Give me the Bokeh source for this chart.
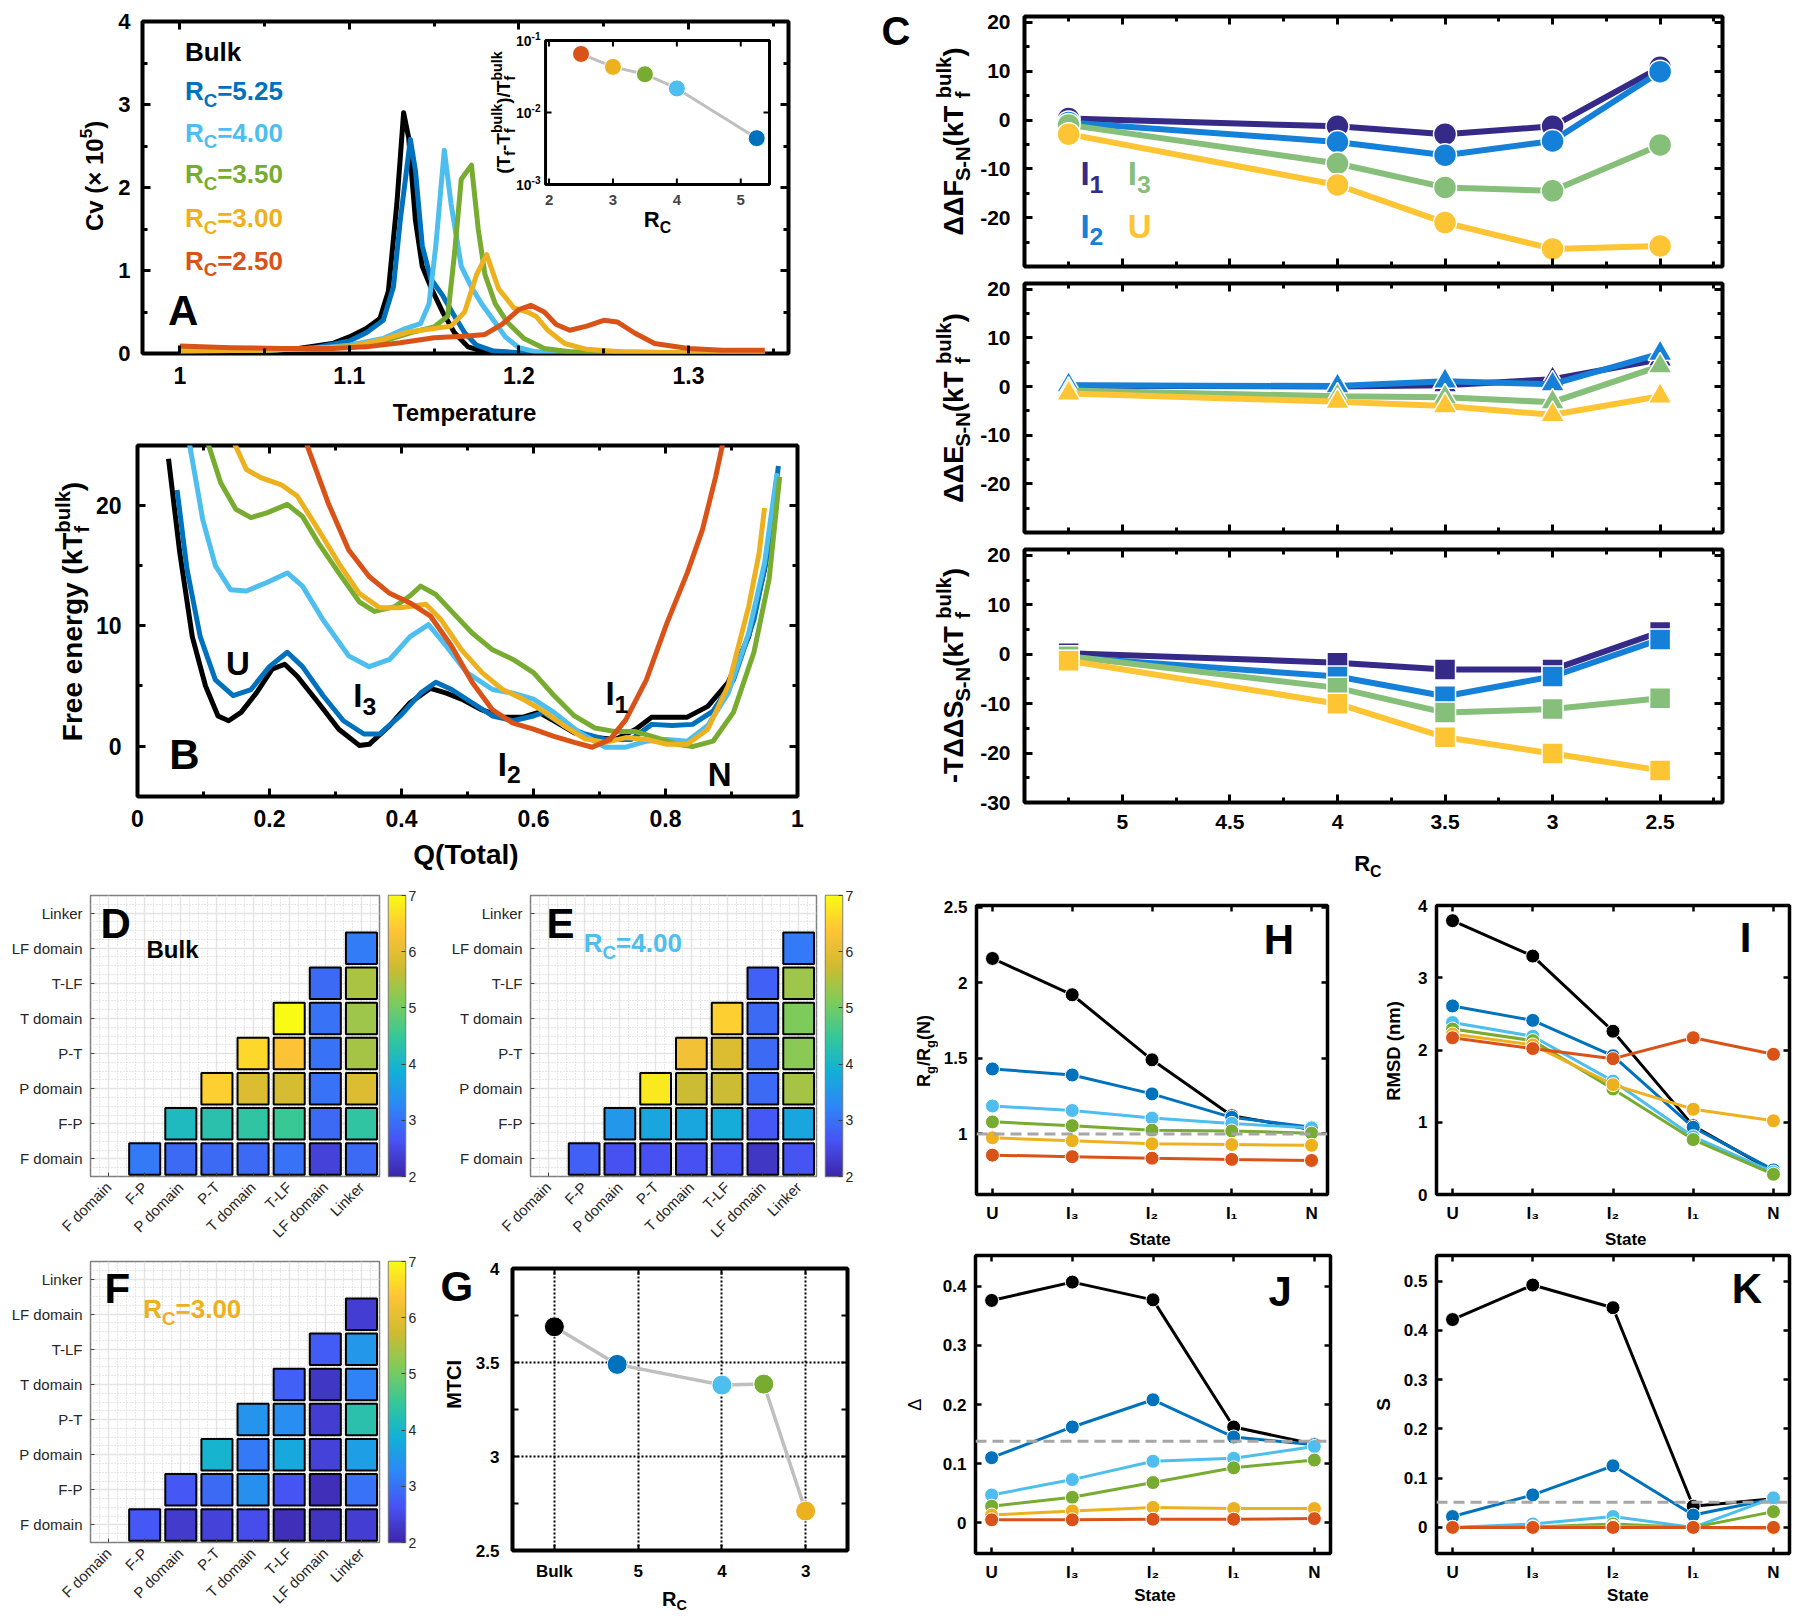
import numpy as np
from math import pi, cos, sin
from bokeh.plotting import figure
from bokeh.models import (Range1d, LinearAxis, Label, Span, FixedTicker,
                          LinearColorMapper, LogScale, ColumnDataSource,
                          PrintfTickFormatter, Spacer)
from bokeh.layouts import row, column
from bokeh.embed import file_html
from bokeh.resources import INLINE

SANS = "Liberation Sans"

# ============================ DATA ============================
RC_NAMES = ["Bulk", "5.25", "4.00", "3.50", "3.00", "2.50"]
RC_COLORS = ["#000000", "#0072BD", "#4DBEEE", "#77AC30", "#EDB120", "#D95319"]

# --- A: heat capacity Cv (x1e5) vs temperature
A_T_BULK = [1.00, 1.04, 1.07, 1.09, 1.10, 1.11, 1.118, 1.123, 1.128, 1.132, 1.135, 1.139, 1.143, 1.148, 1.155, 1.162, 1.17, 1.18, 1.20, 1.25, 1.30, 1.345]
A_CV_BULK = [0.03, 0.04, 0.06, 0.12, 0.20, 0.30, 0.42, 0.75, 1.80, 2.90, 2.60, 1.60, 1.05, 0.80, 0.50, 0.25, 0.08, 0.02, 0.01, 0.01, 0.01, 0.01]
A_T_525 = [1.00, 1.05, 1.08, 1.10, 1.11, 1.12, 1.126, 1.13, 1.136, 1.139, 1.143, 1.148, 1.155, 1.162, 1.168, 1.175, 1.185, 1.20, 1.30, 1.345]
A_CV_525 = [0.03, 0.04, 0.07, 0.15, 0.25, 0.40, 0.80, 1.60, 2.58, 2.20, 1.30, 0.90, 0.70, 0.45, 0.25, 0.10, 0.03, 0.01, 0.01, 0.01]
A_T_400 = [1.00, 1.05, 1.08, 1.10, 1.12, 1.133, 1.142, 1.147, 1.151, 1.156, 1.16, 1.166, 1.172, 1.178, 1.185, 1.192, 1.20, 1.21, 1.30, 1.345]
A_CV_400 = [0.03, 0.04, 0.06, 0.10, 0.18, 0.30, 0.36, 0.60, 1.30, 2.45, 1.80, 1.05, 0.80, 0.60, 0.40, 0.20, 0.07, 0.02, 0.01, 0.01]
A_T_350 = [1.00, 1.05, 1.10, 1.12, 1.136, 1.15, 1.158, 1.162, 1.166, 1.172, 1.176, 1.18, 1.186, 1.193, 1.203, 1.215, 1.23, 1.30, 1.345]
A_CV_350 = [0.03, 0.04, 0.08, 0.15, 0.25, 0.32, 0.45, 1.20, 2.10, 2.27, 1.50, 0.95, 0.60, 0.38, 0.18, 0.06, 0.02, 0.01, 0.01]
A_T_300 = [1.00, 1.05, 1.10, 1.12, 1.135, 1.15, 1.16, 1.168, 1.175, 1.181, 1.188, 1.197, 1.205, 1.21, 1.217, 1.227, 1.24, 1.26, 1.30, 1.345]
A_CV_300 = [0.03, 0.04, 0.08, 0.17, 0.26, 0.30, 0.33, 0.50, 0.95, 1.19, 0.78, 0.55, 0.50, 0.45, 0.28, 0.12, 0.05, 0.02, 0.01, 0.01]
A_T_250 = [1.00, 1.03, 1.06, 1.09, 1.11, 1.13, 1.15, 1.17, 1.18, 1.19, 1.20, 1.207, 1.215, 1.222, 1.23, 1.24, 1.25, 1.258, 1.268, 1.28, 1.30, 1.32, 1.345]
A_CV_250 = [0.09, 0.07, 0.06, 0.06, 0.08, 0.13, 0.19, 0.21, 0.23, 0.35, 0.53, 0.58, 0.50, 0.35, 0.28, 0.33, 0.40, 0.38, 0.25, 0.12, 0.06, 0.04, 0.04]

# --- A inset: (Tf - Tf_bulk)/Tf_bulk vs Rc
INSET_RC = [2.5, 3.0, 3.5, 4.0, 5.25]
INSET_SHIFT = [0.065, 0.043, 0.034, 0.0216, 0.0044]
INSET_COLORS = ["#D95319", "#EDB120", "#77AC30", "#4DBEEE", "#0072BD"]

# --- B: free energy vs Q(Total)
B_Q_BULK = [0.047, 0.064, 0.083, 0.103, 0.122, 0.138, 0.157, 0.18, 0.204, 0.223, 0.242, 0.274, 0.305, 0.336, 0.351, 0.382, 0.413, 0.444, 0.468, 0.491, 0.522, 0.553, 0.584, 0.608, 0.631, 0.662, 0.693, 0.724, 0.755, 0.779, 0.802, 0.833, 0.864, 0.895, 0.926, 0.95, 0.969]
B_F_BULK = [23.9, 16.1, 9.1, 5.0, 2.5, 2.1, 2.8, 4.4, 6.4, 6.8, 5.8, 3.6, 1.4, 0.05, 0.14, 1.7, 3.6, 4.8, 4.4, 3.9, 3.0, 2.4, 2.4, 2.8, 2.1, 1.1, 0.7, 0.55, 1.4, 2.4, 2.4, 2.4, 3.3, 5.3, 9.1, 14.7, 22.2]
B_Q_525 = [0.06, 0.075, 0.095, 0.118, 0.145, 0.172, 0.2, 0.227, 0.25, 0.281, 0.312, 0.343, 0.367, 0.398, 0.429, 0.452, 0.476, 0.507, 0.538, 0.569, 0.6, 0.615, 0.646, 0.678, 0.709, 0.748, 0.779, 0.81, 0.841, 0.872, 0.903, 0.934, 0.957, 0.971]
B_F_525 = [21.3, 14.7, 9.1, 5.5, 4.2, 4.7, 6.6, 7.8, 6.6, 4.2, 2.1, 1.0, 1.0, 2.5, 4.4, 5.3, 4.7, 3.6, 2.5, 2.1, 2.5, 2.8, 1.7, 1.0, 0.55, 0.55, 1.8, 1.7, 1.8, 2.9, 5.5, 10.5, 16.6, 23.3]
B_Q_400 = [0.076, 0.099, 0.118, 0.141, 0.165, 0.196, 0.227, 0.25, 0.281, 0.32, 0.351, 0.382, 0.413, 0.441, 0.468, 0.499, 0.538, 0.569, 0.6, 0.631, 0.67, 0.709, 0.74, 0.771, 0.802, 0.833, 0.864, 0.895, 0.926, 0.95, 0.969]
B_F_400 = [26.0, 18.8, 15.0, 13.0, 12.9, 13.6, 14.4, 13.3, 10.5, 7.5, 6.6, 7.2, 9.1, 10.1, 8.3, 6.1, 4.7, 4.4, 3.9, 2.8, 1.1, -0.1, -0.1, 0.4, 0.55, 0.4, 1.7, 4.4, 9.4, 15.2, 22.7]
B_Q_350 = [0.102, 0.126, 0.149, 0.172, 0.196, 0.227, 0.25, 0.274, 0.305, 0.336, 0.359, 0.39, 0.413, 0.429, 0.452, 0.476, 0.507, 0.538, 0.569, 0.6, 0.631, 0.662, 0.693, 0.724, 0.755, 0.786, 0.817, 0.841, 0.872, 0.903, 0.934, 0.957, 0.973]
B_F_350 = [26.0, 21.9, 19.7, 19.0, 19.4, 20.1, 19.1, 16.9, 14.4, 12.0, 11.2, 11.6, 12.5, 13.3, 12.6, 11.2, 9.4, 8.0, 7.2, 6.1, 4.2, 2.5, 1.5, 1.2, 1.2, 0.7, 0.15, -0.05, 0.4, 2.8, 7.8, 13.9, 22.4]
B_Q_300 = [0.14, 0.165, 0.188, 0.219, 0.242, 0.274, 0.305, 0.336, 0.367, 0.398, 0.437, 0.46, 0.491, 0.522, 0.553, 0.584, 0.615, 0.646, 0.678, 0.709, 0.74, 0.771, 0.802, 0.833, 0.864, 0.895, 0.926, 0.942, 0.95]
B_F_300 = [26.0, 23.0, 22.3, 21.7, 20.8, 18.0, 15.2, 12.7, 11.5, 11.5, 11.8, 10.5, 8.0, 6.1, 4.7, 3.9, 2.9, 1.7, 0.6, 0.3, 0.7, 0.55, 0.15, 0.15, 1.4, 5.0, 11.6, 16.1, 19.8]
B_Q_250 = [0.247, 0.289, 0.32, 0.351, 0.382, 0.413, 0.444, 0.476, 0.507, 0.538, 0.569, 0.6, 0.631, 0.662, 0.689, 0.716, 0.74, 0.771, 0.802, 0.833, 0.856, 0.876, 0.892]
B_F_250 = [26.5, 20.2, 16.3, 14.1, 12.7, 11.9, 10.8, 8.3, 5.3, 3.0, 1.9, 1.4, 0.8, 0.3, -0.1, 0.55, 2.2, 5.5, 10.2, 14.4, 18.0, 22.4, 26.5]

# --- C: stability differences vs Rc
C_RC = [5.25, 4.0, 3.5, 3.0, 2.5]
C_COLORS = ["#352A87", "#1480D8", "#86BF79", "#FDC533"]   # I1, I2, I3, U
DDF_I1 = [0.3, -1.3, -2.9, -1.3, 10.8]
DDF_I2 = [-0.5, -4.5, -7.2, -4.3, 9.9]
DDF_I3 = [-1.0, -8.9, -13.8, -14.5, -5.1]
DDF_U = [-2.9, -13.3, -21.0, -26.4, -25.8]
DDE_I1 = [0.2, 0.0, 0.3, 1.5, 5.6]
DDE_I2 = [0.3, 0.1, 1.1, 0.5, 6.8]
DDE_I3 = [-0.8, -2.0, -2.2, -3.2, 4.2]
DDE_U = [-1.4, -3.1, -4.0, -5.8, -2.0]
TDS_I1 = [0.2, -1.7, -3.1, -3.1, 4.5]
TDS_I2 = [-0.6, -4.5, -8.5, -4.5, 3.0]
TDS_I3 = [-0.4, -6.8, -11.8, -11.1, -8.9]
TDS_U = [-1.3, -10.0, -16.8, -20.1, -23.5]

# --- D/E/F: domain coupling maps (rows = y category, cols = x category)
DOMAINS = ["F domain", "F-P", "P domain", "P-T", "T domain", "T-LF", "LF domain", "Linker"]
N_ = None
HEAT_BULK = [
    [N_, 3.1, 2.9, 2.9, 2.9, 3.0, 2.4, 2.9],
    [N_, N_, 4.1, 4.3, 4.4, 4.5, 2.9, 4.4],
    [N_, N_, N_, 6.5, 5.9, 5.8, 3.0, 5.9],
    [N_, N_, N_, N_, 6.6, 6.35, 3.0, 5.4],
    [N_, N_, N_, N_, N_, 7.0, 3.0, 5.35],
    [N_, N_, N_, N_, N_, N_, 2.9, 5.45],
    [N_, N_, N_, N_, N_, N_, N_, 3.15],
    [N_, N_, N_, N_, N_, N_, N_, N_],
]
HEAT_RC400 = [
    [N_, 2.8, 2.6, 2.6, 2.6, 2.65, 2.25, 2.65],
    [N_, N_, 3.5, 3.7, 3.7, 3.8, 2.7, 3.7],
    [N_, N_, N_, 6.8, 5.7, 5.7, 2.9, 5.4],
    [N_, N_, N_, N_, 6.2, 5.9, 2.9, 5.2],
    [N_, N_, N_, N_, N_, 6.5, 2.9, 5.1],
    [N_, N_, N_, N_, N_, N_, 2.8, 5.35],
    [N_, N_, N_, N_, N_, N_, N_, 3.1],
    [N_, N_, N_, N_, N_, N_, N_, N_],
]
HEAT_RC300 = [
    [N_, 2.7, 2.3, 2.4, 2.55, 2.15, 2.2, 2.35],
    [N_, N_, 2.7, 2.9, 3.4, 2.65, 2.15, 3.0],
    [N_, N_, N_, 3.95, 3.1, 3.75, 2.4, 3.6],
    [N_, N_, N_, N_, 3.45, 3.35, 2.35, 4.3],
    [N_, N_, N_, N_, N_, 2.8, 2.25, 3.2],
    [N_, N_, N_, N_, N_, N_, 2.75, 3.5],
    [N_, N_, N_, N_, N_, N_, N_, 2.35],
    [N_, N_, N_, N_, N_, N_, N_, N_],
]

# --- G: MTCI vs Rc (Bulk placed at 6)
G_X = [6.0, 5.25, 4.0, 3.5, 3.0]
G_MTCI = [3.69, 3.49, 3.38, 3.385, 2.71]
G_COLORS = ["#000000", "#0072BD", "#4DBEEE", "#77AC30", "#EDB120"]
G_TICK_LABELS = {6: "Bulk"}

# --- H-K: per-state properties (U, I3, I2, I1, N)
STATE_X = [1, 2, 3, 4, 5]
STATE_LABELS = {1: "U", 2: "I\u2083", 3: "I\u2082", 4: "I\u2081", 5: "N"}
RG_BULK = [2.16, 1.92, 1.49, 1.12, 1.03]
RG_525 = [1.43, 1.39, 1.265, 1.11, 1.045]
RG_400 = [1.185, 1.155, 1.105, 1.07, 1.04]
RG_350 = [1.08, 1.055, 1.025, 1.02, 1.005]
RG_300 = [0.975, 0.955, 0.935, 0.93, 0.925]
RG_250 = [0.86, 0.85, 0.84, 0.832, 0.825]
RG_REF = 1.0
RMSD_BULK = [3.79, 3.30, 2.26, 0.95, 0.32]
RMSD_525 = [2.61, 2.41, 1.92, 0.93, 0.34]
RMSD_400 = [2.38, 2.19, 1.57, 0.80, 0.31]
RMSD_350 = [2.29, 2.13, 1.46, 0.76, 0.28]
RMSD_300 = [2.22, 2.07, 1.52, 1.18, 1.02]
RMSD_250 = [2.17, 2.02, 1.88, 2.17, 1.94]
DELTA_BULK = [0.376, 0.407, 0.377, 0.162, 0.133]
DELTA_525 = [0.110, 0.162, 0.208, 0.145, 0.132]
DELTA_400 = [0.047, 0.073, 0.104, 0.109, 0.129]
DELTA_350 = [0.028, 0.043, 0.068, 0.093, 0.106]
DELTA_300 = [0.013, 0.020, 0.026, 0.024, 0.024]
DELTA_250 = [0.005, 0.005, 0.006, 0.006, 0.007]
DELTA_REF = 0.138
S_BULK = [0.422, 0.492, 0.446, 0.043, 0.058]
S_525 = [0.022, 0.066, 0.125, 0.025, 0.058]
S_400 = [0.0, 0.007, 0.022, 0.0, 0.060]
S_350 = [0.0, 0.001, 0.007, 0.0, 0.032]
S_300 = [0.0, 0.0, 0.002, 0.0, -0.002]
S_250 = [0.0, 0.0, 0.0, 0.0, 0.0]
S_REF = 0.051

# ============================ HELPERS ============================
BW = {c: 556 for c in "0123456789"}
BW.update({' ': 278, '!': 333, '(': 333, ')': 333, '-': 333, '.': 278, '/': 278, '=': 584,
           '\u00d7': 584, '\u0394': 700,
           'A': 722, 'B': 722, 'C': 722, 'D': 722, 'E': 667, 'F': 611, 'G': 778, 'H': 722,
           'I': 278, 'J': 556, 'K': 722, 'L': 611, 'M': 833, 'N': 722, 'O': 778, 'P': 667,
           'Q': 778, 'R': 722, 'S': 667, 'T': 611, 'U': 722, 'V': 667, 'W': 944, 'X': 667,
           'Y': 667, 'Z': 611, 'a': 556, 'b': 611, 'c': 556, 'd': 611, 'e': 556, 'f': 333,
           'g': 611, 'h': 611, 'i': 278, 'j': 278, 'k': 556, 'l': 278, 'm': 889, 'n': 611,
           'o': 611, 'p': 611, 'q': 611, 'r': 389, 's': 556, 't': 333, 'u': 611, 'v': 556,
           'w': 778, 'x': 556, 'y': 556, 'z': 500})


def tw(s, size):
    return sum(BW.get(ch, 556) for ch in s) / 1000.0 * size


def rich(p, x, y, pieces, size, font=SANS, color="black", angle=0.0, align="left",
         xo=0.0, yo=0.0, style="bold", ratio=0.72, xr="default", yr="default"):
    """Text with sub/superscripts; (x, y) + offsets give the left end of the baseline."""
    ss = size * ratio
    items, adv = [], 0.0
    for pc in pieces:
        if pc[0] == "n":
            items.append((adv, 0.0, pc[1], size)); adv += tw(pc[1], size)
        elif pc[0] == "b":
            items.append((adv, -0.24 * size, pc[1], ss)); adv += tw(pc[1], ss)
        elif pc[0] == "p":
            items.append((adv, 0.42 * size, pc[1], ss)); adv += tw(pc[1], ss)
        else:
            items.append((adv, -0.24 * size, pc[1], ss))
            items.append((adv, 0.46 * size, pc[2], ss))
            adv += max(tw(pc[1], ss), tw(pc[2], ss))
    start = {"left": 0.0, "center": -adv / 2.0, "right": -adv}[align]
    ca, sa = cos(angle), sin(angle)
    for a, sh, t, sz in items:
        d = start + a
        shm = sh + 0.35 * sz          # anchor each piece at its middle
        ox = d * ca - shm * sa
        oy = d * sa + shm * ca
        p.add_layout(Label(x=x, y=y, text=t, x_offset=xo + ox, y_offset=yo + oy, angle=angle,
                           text_font=font, text_font_style=style, text_font_size=f"{sz:.1f}px",
                           text_color=color, text_align="left", text_baseline="middle",
                           x_range_name=xr, y_range_name=yr))


class TextPanel:
    """A figure whose frame covers all of it; used for texts that sit outside plot frames.
    Positions are given in page-image pixels (x0, y0 = top-left corner of this panel)."""

    def __init__(self, x0, y0, w, h):
        self.x0, self.y0, self.w, self.h = x0, y0, w, h
        p = figure(width=w, height=h, x_range=Range1d(0, w), y_range=Range1d(0, h),
                   output_backend="svg", toolbar_location=None,
                   min_border_left=0, min_border_right=0, min_border_top=0,
                   min_border_bottom=0, x_axis_location=None, y_axis_location=None)
        for g in p.grid:
            g.visible = False
        p.outline_line_color = None
        p.background_fill_color = "white"
        p.border_fill_color = "white"
        self.fig = p

    def put(self, X, Y, pieces, size, **kw):
        rich(self.fig, X - self.x0, self.y0 + self.h - Y, pieces, size, **kw)


def base_fig(w, h, xr, yr, bl, br, bt, bb, lw=4.0, axes=True):
    p = figure(width=w, height=h, x_range=xr, y_range=yr, output_backend="svg",
               toolbar_location=None, min_border_left=bl, min_border_right=br,
               min_border_top=bt, min_border_bottom=bb,
               x_axis_location="below" if axes else None,
               y_axis_location="left" if axes else None)
    for g in p.grid:
        g.visible = False
    p.outline_line_color = "black"
    p.outline_line_width = lw
    p.outline_line_alpha = 1.0
    p.background_fill_color = "white"
    p.border_fill_color = "white"
    return p


def style_axis(ax, ticks, minor=(), size=20, standoff=10, tick_len=8, minor_len=5, twid=3,
               font=SANS, style="bold", overrides=None, labels=True, fmt=True, color="black"):
    ax.ticker = FixedTicker(ticks=list(ticks), minor_ticks=list(minor))
    if fmt:
        ax.formatter = PrintfTickFormatter(format="%g")
    ax.axis_line_color = None
    ax.major_tick_in = tick_len
    ax.major_tick_out = 0
    ax.minor_tick_in = minor_len
    ax.minor_tick_out = 0
    ax.major_tick_line_width = twid
    ax.minor_tick_line_width = twid
    ax.major_tick_line_color = color
    ax.minor_tick_line_color = color
    ax.major_label_text_font = font
    ax.major_label_text_font_style = style
    if labels:
        ax.major_label_standoff = standoff
        ax.major_label_text_font_size = f"{size}px"
        ax.major_label_text_color = "black"
    else:
        ax.major_label_standoff = 0
        ax.major_label_text_font_size = "1px"
        ax.major_label_text_color = None
    if overrides:
        ax.major_label_overrides = overrides


def mirror(p, xt, xm, yt, ym, tick_len=8, minor_len=5, twid=3):
    top = LinearAxis()
    style_axis(top, xt, xm, labels=False, tick_len=tick_len, minor_len=minor_len, twid=twid)
    p.add_layout(top, "above")
    right = LinearAxis()
    style_axis(right, yt, ym, labels=False, tick_len=tick_len, minor_len=minor_len, twid=twid)
    p.add_layout(right, "right")


# ============================ PANEL A ============================
# figure: page x 112-880, y 8-393 ; frame x 142-788, y 21-353
pA = base_fig(768, 385, Range1d(0.978, 1.359), Range1d(0, 4), 30, 92, 13, 40)
AX_T, AX_TM = [1, 1.1, 1.2, 1.3], [1.05, 1.15, 1.25, 1.35]
AY_T, AY_TM = [0, 1, 2, 3, 4], [0.5, 1.5, 2.5, 3.5]
style_axis(pA.xaxis[0], AX_T, AX_TM, size=23, standoff=13)
style_axis(pA.yaxis[0], AY_T, AY_TM, size=22, standoff=12)
mirror(pA, AX_T, AX_TM, AY_T, AY_TM)
A_SERIES = [(A_T_BULK, A_CV_BULK), (A_T_525, A_CV_525), (A_T_400, A_CV_400),
            (A_T_350, A_CV_350), (A_T_300, A_CV_300), (A_T_250, A_CV_250)]
for (t, cv), col in zip(A_SERIES, RC_COLORS):
    pA.line(t, cv, line_color=col, line_width=5, line_join="round")

leg_base = [3.52, 3.05, 2.55, 2.05, 1.52, 1.01]
for name, col, yb in zip(RC_NAMES, RC_COLORS, leg_base):
    if name == "Bulk":
        rich(pA, 1.003, yb, [("n", "Bulk")], 26, color=col)
    else:
        rich(pA, 1.003, yb, [("n", "R"), ("b", "C"), ("n", "=" + name)], 26, color=col)
rich(pA, 0.993, 0.34, [("n", "A")], 42)

# inset (drawn through extra ranges mapped onto a sub-box of the frame)
IX0, IX1, IY0, IY1 = 1.945, 5.45, 1e-3, 1e-1
pA.extra_x_ranges = {"ix": Range1d(-4.362, 5.747)}
pA.extra_y_ranges = {"iy": Range1d(10 ** -5.347, 10 ** -0.736)}
pA.extra_y_scales = {"iy": LogScale()}
pA.quad(left=[IX0], right=[IX1], bottom=[IY0], top=[IY1], fill_color="white",
        line_color="black", line_width=3, x_range_name="ix", y_range_name="iy")
INSET_XT = [2, 3, 4, 5]
INSET_YT = [1e-3, 1e-2, 1e-1]
kx = 10 ** (6 / 72.0)
pA.segment(x0=INSET_XT, y0=[IY0] * 4, x1=INSET_XT, y1=[IY0 * kx] * 4, line_color="black",
           line_width=2, x_range_name="ix", y_range_name="iy")
pA.segment(x0=INSET_XT, y0=[IY1] * 4, x1=INSET_XT, y1=[IY1 / kx] * 4, line_color="black",
           line_width=2, x_range_name="ix", y_range_name="iy")
pA.segment(x0=[IX0] * 3, y0=INSET_YT, x1=[IX0 + 0.094] * 3, y1=INSET_YT, line_color="black",
           line_width=2, x_range_name="ix", y_range_name="iy")
pA.segment(x0=[IX1] * 3, y0=INSET_YT, x1=[IX1 - 0.094] * 3, y1=INSET_YT, line_color="black",
           line_width=2, x_range_name="ix", y_range_name="iy")
for t in INSET_XT:
    pA.add_layout(Label(x=t, y=IY0, text=str(t), y_offset=-15, text_align="center",
                        text_baseline="middle", text_font=SANS, text_font_style="bold",
                        text_font_size="15px", x_range_name="ix", y_range_name="iy"))
for t, e in zip(INSET_YT, ["-3", "-2", "-1"]):
    rich(pA, IX0, t, [("n", "10"), ("p", e)], 14, align="right", xo=-5, yo=-5,
         xr="ix", yr="iy")
pA.line(INSET_RC, INSET_SHIFT, line_color="#BFBFBF", line_width=3,
        x_range_name="ix", y_range_name="iy")
pA.scatter(INSET_RC, INSET_SHIFT, size=17, fill_color=INSET_COLORS, line_color="white",
           line_width=1, x_range_name="ix", y_range_name="iy")
rich(pA, (IX0 + IX1) / 2, IY0, [("n", "R"), ("b", "C")], 22, align="center", yo=-43,
     xr="ix", yr="iy")
rich(pA, IX0, 1e-2, [("n", "(T"), ("b", "f"), ("n", "-T"), ("bp", "f", "bulk"), ("n", ")/T"),
                     ("bp", "f", "bulk")], 19, angle=pi / 2, align="center", xo=-35,
     ratio=0.75, xr="ix", yr="iy")

YL_A = TextPanel(8, 8, 104, 385)
YL_A.put(102, 187, [("n", "Cv (\u00d7 10"), ("p", "5"), ("n", ")")], 24, angle=pi / 2,
         align="center")
XL_A = TextPanel(8, 393, 872, 35)
XL_A.put(465, 420, [("n", "Temperature")], 24, align="center")

# ============================ PANEL B ============================
# figure: page x 92-880, y 428-835 ; frame x 136-797, y 445-796
pB = base_fig(788, 407, Range1d(0, 1), Range1d(-4.2, 25), 44, 83, 17, 39)
BX_T, BX_TM = [0, 0.2, 0.4, 0.6, 0.8, 1.0], [0.1, 0.3, 0.5, 0.7, 0.9]
BY_T, BY_TM = [0, 10, 20], [5, 15]
style_axis(pB.xaxis[0], BX_T, BX_TM, size=23, standoff=13)
style_axis(pB.yaxis[0], BY_T, BY_TM, size=23, standoff=16)
mirror(pB, BX_T, BX_TM, BY_T, BY_TM)
B_SERIES = [(B_Q_BULK, B_F_BULK), (B_Q_525, B_F_525), (B_Q_400, B_F_400),
            (B_Q_350, B_F_350), (B_Q_300, B_F_300), (B_Q_250, B_F_250)]
for (q, f), col in zip(B_SERIES, RC_COLORS):
    pB.line(q, f, line_color=col, line_width=5, line_join="round")
rich(pB, 0.134, 5.9, [("n", "U")], 33)
rich(pB, 0.327, 3.2, [("n", "I"), ("b", "3")], 33, ratio=0.75)
rich(pB, 0.546, -2.46, [("n", "I"), ("b", "2")], 33, ratio=0.75)
rich(pB, 0.709, 3.37, [("n", "I"), ("b", "1")], 33, ratio=0.75)
rich(pB, 0.864, -3.3, [("n", "N")], 33)
rich(pB, 0.048, -1.9, [("n", "B")], 42)

YL_B = TextPanel(8, 428, 84, 407)
YL_B.put(82, 620.5, [("n", "Free energy (kT"), ("bp", "f", "bulk"), ("n", ")")], 28,
         angle=pi / 2, align="center")
XL_B = TextPanel(8, 835, 872, 50)
XL_B.put(466.5, 864, [("n", "Q(Total)")], 28, align="center")

# ============================ PANEL C ============================
# figures: page x 975-1784 ; frames x 1024-1722
CX_T = [5, 4.5, 4, 3.5, 3, 2.5]
CX_TM = [5.25, 4.75, 4.25, 3.75, 3.25, 2.75, 2.25]
CY_TM = [15, 5, -5, -15, -25]


def c_fig(h, bt, bb, yt, xlabels, series, marker, msize):
    p = base_fig(809, h, Range1d(5.455, 2.21), Range1d(-30.0, 21.2), 49, 62, bt, bb)
    style_axis(p.xaxis[0], CX_T, CX_TM, size=21, standoff=12, labels=xlabels)
    style_axis(p.yaxis[0], yt, CY_TM, size=21, standoff=14)
    mirror(p, CX_T, CX_TM, yt, CY_TM)
    for ys, col in zip(series, C_COLORS):
        p.line(C_RC, ys, line_color=col, line_width=6)
        p.scatter(C_RC, ys, marker=marker, size=msize, fill_color=col, line_color="white",
                  line_width=1.5)
    return p


YT12 = [20, 10, 0, -10, -20]
pC1 = c_fig(267, 8, 9, YT12, False, [DDF_I1, DDF_I2, DDF_I3, DDF_U], "circle", 23)
pC2 = c_fig(266, 8, 9, YT12, False, [DDE_I1, DDE_I2, DDE_I3, DDE_U], "triangle", 24)
pC3 = c_fig(297, 8, 36, [20, 10, 0, -10, -20, -30], True, [TDS_I1, TDS_I2, TDS_I3, TDS_U],
            "square", 21)
rich(pC1, 5.195, -13.4, [("n", "I"), ("b", "1")], 33, color=C_COLORS[0], ratio=0.75)
rich(pC1, 4.975, -13.4, [("n", "I"), ("b", "3")], 33, color=C_COLORS[2], ratio=0.75)
rich(pC1, 5.195, -24.1, [("n", "I"), ("b", "2")], 33, color=C_COLORS[1], ratio=0.75)
rich(pC1, 4.975, -24.1, [("n", "U")], 33, color=C_COLORS[3])

YL_C = TextPanel(880, 8, 95, 877)
YL_C.put(881, 44, [("n", "C")], 40)
KT = [("n", " (kT"), ("bp", "f", "bulk"), ("n", ")")]
YL_C.put(963, 141, [("n", "\u0394\u0394F"), ("b", "S-N")] + KT, 27, angle=pi / 2,
         align="center", ratio=0.75)
YL_C.put(963, 407.5, [("n", "\u0394\u0394E"), ("b", "S-N")] + KT, 27, angle=pi / 2,
         align="center", ratio=0.75)
YL_C.put(963, 675, [("n", "-T\u0394\u0394S"), ("b", "S-N")] + KT, 27, angle=pi / 2,
         align="center", ratio=0.75)
XL_C = TextPanel(975, 838, 809, 47)
XL_C.put(1373, 871, [("n", "R"), ("b", "C")], 22, align="center")

# ============================ PANELS D/E/F ============================
PARULA_ANCHORS = [
    (0.0, (0.2422, 0.1504, 0.6603)), (0.125, (0.2810, 0.3228, 0.9578)),
    (0.25, (0.1786, 0.5289, 0.9682)), (0.375, (0.0689, 0.6948, 0.8394)),
    (0.5, (0.2161, 0.7843, 0.5923)), (0.625, (0.5044, 0.7993, 0.3480)),
    (0.75, (0.8185, 0.7327, 0.1879)), (0.875, (0.9990, 0.7653, 0.2164)),
    (1.0, (0.9769, 0.9839, 0.0805))]
_ts = [a[0] for a in PARULA_ANCHORS]
_cs = np.array([a[1] for a in PARULA_ANCHORS])
PARULA = []
for t in np.linspace(0, 1, 256):
    rgb = [int(round(255 * np.interp(t, _ts, _cs[:, i]))) for i in range(3)]
    PARULA.append("#%02x%02x%02x" % tuple(rgb))
MAPPER = LinearColorMapper(palette=PARULA, low=2, high=7)
CB_GRAD = np.linspace(2, 7, 256).reshape(256, 1)
HEAT_TICKS = list(range(1, 9))
HEAT_MINOR = [i + f for i in range(0, 9) for f in (0.25, 0.5, 0.75)]


def heat_fig(vals, w, h, bl, br, bt, bb):
    p = base_fig(w, h, Range1d(0.5, 8.5), Range1d(0.5, 8.5), bl, br, bt, bb, lw=1.5)
    p.outline_line_color = "#808080"
    xs, ys, vs = [], [], []
    for r, rv in enumerate(vals):
        for c, v in enumerate(rv):
            if v is not None:
                xs.append(c + 1); ys.append(r + 1); vs.append(v)
    src = ColumnDataSource(dict(x=xs, y=ys, v=vs))
    for g in p.grid:
        g.visible = True
        g.grid_line_color = "#e4e4e4"
        g.grid_line_width = 1.5
        g.minor_grid_line_color = "#cfcfcf"
        g.minor_grid_line_dash = "1 2"
        g.minor_grid_line_width = 1
    p.rect("x", "y", width=0.86, height=0.9, source=src,
           fill_color={"field": "v", "transform": MAPPER}, line_color="black", line_width=2)
    names = {i + 1: n for i, n in enumerate(DOMAINS)}
    for ax in (p.xaxis[0], p.yaxis[0]):
        style_axis(ax, HEAT_TICKS, HEAT_MINOR, size=15, standoff=8, tick_len=4, twid=1,
                   style="normal", overrides=names, fmt=False, color="#404040")
        ax.minor_tick_line_color = None
        ax.major_label_text_color = "#262626"
    p.xaxis[0].major_label_orientation = pi / 4
    return p


def cbar_fig(w, h, bl, br, bt, bb):
    p = base_fig(w, h, Range1d(0, 1), Range1d(2, 7), bl, br, bt, bb, lw=1.5, axes=False)
    p.outline_line_color = "#808080"
    p.image(image=[CB_GRAD], x=0, y=2, dw=1, dh=5, color_mapper=MAPPER)
    ax = LinearAxis()
    style_axis(ax, [2, 3, 4, 5, 6, 7], [], size=14, standoff=3, tick_len=4, twid=1,
               style="normal", color="#404040")
    ax.major_label_text_color = "#262626"
    p.add_layout(ax, "right")
    return p


pD = heat_fig(HEAT_BULK, 374, 365, 81, 3, 10, 74)
cbD = cbar_fig(66, 365, 6, 43, 10, 74)
pE = heat_fig(HEAT_RC400, 371, 365, 78, 3, 10, 74)
cbE = cbar_fig(81, 365, 6, 58, 10, 74)
pF = heat_fig(HEAT_RC300, 374, 366, 81, 3, 11, 74)
cbF = cbar_fig(48, 366, 6, 25, 11, 74)
rich(pD, 0.78, 7.28, [("n", "D")], 42)
rich(pD, 2.05, 6.73, [("n", "Bulk")], 24)
rich(pE, 0.95, 7.28, [("n", "E")], 42)
rich(pE, 1.99, 6.88, [("n", "R"), ("b", "C"), ("n", "=4.00")], 26, color="#4DBEEE")
rich(pF, 0.89, 7.3, [("n", "F")], 42)
rich(pF, 1.96, 6.88, [("n", "R"), ("b", "C"), ("n", "=3.00")], 26, color="#EDB120")

# ============================ PANEL G ============================
# figure: page x 472-900, y 1250-1583 ; frame x 511-847, y 1268-1552
pG = base_fig(428, 333, Range1d(6.5, 2.5), Range1d(2.5, 4.0), 39, 53, 18, 31)
GX_T = [6, 5, 4, 3]
GY_T, GY_TM = [2.5, 3, 3.5, 4], [2.75, 3.25, 3.75]
style_axis(pG.xaxis[0], GX_T, [], size=17, standoff=11, tick_len=6, twid=2,
           overrides=G_TICK_LABELS)
style_axis(pG.yaxis[0], GY_T, GY_TM, size=17, standoff=13, tick_len=6, minor_len=6, twid=2)
mirror(pG, GX_T, [], GY_T, GY_TM, tick_len=6, minor_len=6, twid=2)
for g in pG.grid:
    g.visible = True
    g.grid_line_color = "black"
    g.grid_line_dash = "2 2"
    g.grid_line_width = 2
pG.line(G_X, G_MTCI, line_color="#BFBFBF", line_width=3.5)
pG.scatter(G_X, G_MTCI, size=20, fill_color=G_COLORS, line_color="white", line_width=1)

YL_G = TextPanel(430, 1250, 42, 366)
YL_G.put(440, 1302, [("n", "G")], 42)
YL_G.put(460, 1410, [("n", "MTCI")], 20, angle=pi / 2, align="center")
XL_G = TextPanel(472, 1583, 428, 33)
XL_G.put(679, 1605, [("n", "R"), ("b", "C")], 20, align="center")


# ============================ PANELS H-K ============================
def state_fig(w, h, bl, br, bt, bb, ylo, yhi, yt, series, ref):
    p = base_fig(w, h, Range1d(0.8, 5.2), Range1d(ylo, yhi), bl, br, bt, bb, lw=3.5)
    style_axis(p.xaxis[0], STATE_X, [], size=17, standoff=9, tick_len=6, twid=2.5,
               overrides=STATE_LABELS, fmt=False)
    style_axis(p.yaxis[0], yt, [], size=17, standoff=9, tick_len=6, twid=2.5)
    mirror(p, STATE_X, [], yt, [], tick_len=6, minor_len=0, twid=2.5)
    if ref is not None:
        p.add_layout(Span(location=ref, dimension="width", line_color="#A6A6A6",
                          line_dash="11 6", line_width=3))
    for ys, col in zip(series, RC_COLORS):
        p.line(STATE_X, ys, line_color=col, line_width=3)
        p.scatter(STATE_X, ys, size=14, fill_color=col, line_color="white", line_width=1)
    return p


# H: page x 938-1370, y 885-1225 ; I: x 1405-1792 ; J: x 930-1370, y 1250-1586 ; K: x 1400-1792
pH = state_fig(432, 340, 38, 43, 20, 29, 0.6, 2.51, [1, 1.5, 2, 2.5],
               [RG_BULK, RG_525, RG_400, RG_350, RG_300, RG_250], RG_REF)
pI = state_fig(387, 340, 31, 3, 20, 29, 0.0, 4.0, [0, 1, 2, 3, 4],
               [RMSD_BULK, RMSD_525, RMSD_400, RMSD_350, RMSD_300, RMSD_250], None)
pJ = state_fig(440, 336, 45, 40, 5, 33, -0.052, 0.452, [0, 0.1, 0.2, 0.3, 0.4],
               [DELTA_BULK, DELTA_525, DELTA_400, DELTA_350, DELTA_300, DELTA_250], DELTA_REF)
pK = state_fig(392, 336, 36, 3, 5, 33, -0.053, 0.552, [0, 0.1, 0.2, 0.3, 0.4, 0.5],
               [S_BULK, S_525, S_400, S_350, S_300, S_250], S_REF)
rich(pH, 4.4, 2.187, [("n", "H")], 42)
rich(pI, 4.58, 3.354, [("n", "I")], 42)
rich(pJ, 4.43, 0.367, [("n", "J")], 42)
rich(pK, 4.48, 0.455, [("n", "K")], 42)

YL_H = TextPanel(900, 885, 38, 365)
YL_H.put(930, 1050.5, [("n", "R"), ("b", "g"), ("n", "/R"), ("b", "g"), ("n", "(N)")], 18,
         angle=pi / 2, align="center")
XL_H = TextPanel(938, 1225, 432, 25)
XL_H.put(1151.5, 1245, [("n", "State")], 17, align="center")
YL_I = TextPanel(1370, 885, 35, 365)
YL_I.put(1399, 1050.5, [("n", "RMSD (nm)")], 18.5, angle=pi / 2, align="center")
XL_I = TextPanel(1405, 1225, 387, 25)
XL_I.put(1612.5, 1245, [("n", "State")], 17, align="center")
YL_J = TextPanel(900, 1250, 30, 366)
YL_J.put(921, 1404, [("n", "\u0394")], 18, angle=pi / 2, align="center", style="normal")
XL_J = TextPanel(930, 1586, 440, 30)
XL_J.put(1152.5, 1601, [("n", "State")], 17, align="center")
YL_K = TextPanel(1370, 1250, 30, 366)
YL_K.put(1390, 1404, [("n", "S")], 19, angle=pi / 2, align="center")
XL_K = TextPanel(1400, 1586, 392, 30)
XL_K.put(1612.5, 1601, [("n", "State")], 17, align="center")

# ============================ LAYOUT ============================
top_left = column(row(YL_A.fig, pA), XL_A.fig, row(YL_B.fig, pB), XL_B.fig)
top_right = row(YL_C.fig, column(pC1, pC2, pC3, XL_C.fig))
bottom_left = column(row(pD, cbD, pE, cbE),
                     row(pF, cbF, YL_G.fig, column(pG, XL_G.fig)))
bottom_right = column(row(YL_H.fig, column(pH, XL_H.fig), YL_I.fig, column(pI, XL_I.fig)),
                      row(YL_J.fig, column(pJ, XL_J.fig), YL_K.fig, column(pK, XL_K.fig)))
content = column(row(top_left, top_right), row(bottom_left, bottom_right))
root = column(Spacer(width=1784, height=8), row(Spacer(width=8, height=1608), content))

open("out.html", "w").write(file_html(root, INLINE, "figure"))
